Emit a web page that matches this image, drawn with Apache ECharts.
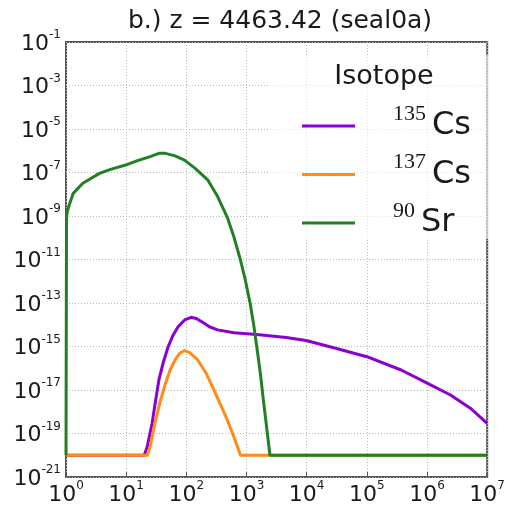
<!DOCTYPE html>
<html>
<head>
<meta charset="utf-8">
<script src="https://cdn.jsdelivr.net/npm/echarts@6/dist/echarts.min.js"></script>
<style>html,body{margin:0;padding:0;background:#fff}#c{width:508px;height:509px}</style>
</head>
<body>
<div id="c"></div>
<script>
// ---- data ----
const titleText = 'b.) z = 4463.42 (seal0a)';
const legendTitle = 'Isotope';
const seriesNames = ['135Cs', '137Cs', '90Sr'];
const massNumbers = ['135', '137', '90'];
const elements = ['Cs', 'Cs', 'Sr'];
// axis ranges as decade exponents (log10)
const xDecades = [0, 7];
const yDecades = [-21, -1];

const cs135X = [1, 20, 22.4, 27, 30.4, 35, 41.7, 50, 60.5, 73, 93.8, 120, 146, 178, 242, 331, 617, 1479, 4571, 9772, 30200, 100000, 371500, 1023000, 2455000, 5250000, 10000000];
const cs135Y = [1e-20, 1e-20, 2.5e-20, 2.95e-19, 2.5e-18, 2.9e-17, 2.0e-16, 1.0e-15, 3.4e-15, 8.1e-15, 1.66e-14, 2.2e-14, 1.95e-14, 1.4e-14, 8.1e-15, 5.8e-15, 4.3e-15, 3.55e-15, 2.6e-15, 1.9e-15, 8.3e-16, 3.4e-16, 8.3e-17, 2.0e-17, 5.9e-18, 1.45e-18, 2.95e-19];

const cs137X = [1, 22.4, 25.1, 30, 36.7, 45, 53.7, 65, 78, 93, 114, 155, 213, 288, 373, 479, 617, 794, 10000000];
const cs137Y = [1e-20, 1e-20, 2.5e-20, 2.95e-19, 2.9e-18, 2.0e-17, 8.3e-17, 2.4e-16, 4.9e-16, 6.5e-16, 5.2e-16, 2.4e-16, 5.9e-17, 1.0e-17, 2.0e-18, 4.2e-19, 7e-20, 1e-20, 1e-20];

const sr90X = [1, 1.02, 1.05, 1.13, 1.32, 1.9, 2.5, 3.6, 5.5, 9.8, 15, 25, 35, 45, 65, 93, 140, 226, 331, 479, 617, 794, 955, 1148, 1318, 1479, 1698, 1905, 2188, 2455, 10000000];
const sr90Y = [1e-20, 8.7e-10, 1.6e-9, 3.2e-9, 1.1e-8, 3.2e-8, 5.0e-8, 9.1e-8, 1.4e-7, 2.2e-7, 3.4e-7, 5.4e-7, 7.6e-7, 7.6e-7, 5.8e-7, 3.7e-7, 1.55e-7, 4.6e-8, 7.8e-9, 8.7e-10, 1.1e-10, 9.5e-12, 1.15e-12, 9.8e-14, 9.8e-15, 1.0e-15, 5.9e-17, 3.5e-18, 1.45e-19, 1e-20, 1e-20];

const colors = ['#8B00D0', '#FF8C1A', '#228022'];

// log-log plot: axes are linear in log10 of the values
function logPairs(xs, ys) { return xs.map((x, i) => [Math.log10(x), Math.log10(ys[i])]); }

const chart = echarts.init(document.getElementById('c'), null, {renderer: 'canvas'});

const tickRich = {
  b: {fontSize: 22, fontFamily: 'DejaVu Sans', color: '#1a1a1a', lineHeight: 26, verticalAlign: 'bottom'},
  s: {fontSize: 12, fontFamily: 'DejaVu Sans', color: '#1a1a1a', lineHeight: 12, verticalAlign: 'top'}
};
function powLabel(e) {
  return '{b|10}{s|' + Math.round(e) + '}';
}

const legendRich = {
  sp: {width: 33, fontSize: 10},
  sup: {fontSize: 22, fontFamily: 'Liberation Serif', color: '#1a1a1a', lineHeight: 4, verticalAlign: 'top'},
  gap: {width: 6, fontSize: 10},
  el: {fontSize: 32, fontFamily: 'DejaVu Sans', color: '#1a1a1a', lineHeight: 46, verticalAlign: 'middle'}
};

const gridLine = {type: [1, 2], color: '#b8b8b8', width: 1};

function lineSeries(i, xs, ys) {
  return {
    name: seriesNames[i], type: 'line', data: logPairs(xs, ys),
    showSymbol: false, smooth: false,
    color: colors[i], lineStyle: {width: 3, color: colors[i], join: 'round'}, z: 3 + i
  };
}

const option = {
  animation: false,
  backgroundColor: '#fff',
  grid: {left: 66, right: 14, top: 42, bottom: 32, show: true, borderColor: '#555', borderWidth: 2, backgroundColor: 'transparent'},
  legend: {
    orient: 'vertical',
    left: 270,
    top: 55,
    padding: [48, 18, 0, 32],
    itemWidth: 53,
    itemHeight: 3,
    itemGap: 9.5,
    icon: 'rect',
    selectedMode: false,
    backgroundColor: 'rgba(255,255,255,0.6)',
    data: seriesNames,
    formatter: function (name) {
      const i = seriesNames.indexOf(name);
      return '{sp|}{sup|' + massNumbers[i] + '}{gap|}{el|' + elements[i] + '}';
    },
    textStyle: {rich: legendRich}
  },
  graphic: [{
    type: 'text',
    x: 280,
    y: 9,
    z: 100,
    style: {text: titleText, align: 'center', verticalAlign: 'top', fontFamily: 'DejaVu Sans', fontSize: 25, fill: '#1a1a1a'}
  }, {
    type: 'text',
    x: 384,
    y: 63,
    z: 100,
    style: {text: legendTitle, align: 'center', verticalAlign: 'top', fontFamily: 'DejaVu Sans', fontSize: 27, fill: '#1a1a1a'}
  }],
  xAxis: {
    type: 'value',
    min: xDecades[0],
    max: xDecades[1],
    interval: 1,
    axisLine: {show: false},
    axisTick: {show: true, inside: true, length: 5, lineStyle: {color: '#555'}},
    splitLine: {show: true, lineStyle: gridLine},
    axisLabel: {formatter: powLabel, rich: tickRich, margin: 3, showMaxLabel: true, showMinLabel: true}
  },
  yAxis: {
    type: 'value',
    min: yDecades[0],
    max: yDecades[1],
    interval: 1,
    axisLine: {show: false},
    axisTick: {show: false},
    splitLine: {show: true, lineStyle: Object.assign({}, gridLine, {color: ['#b8b8b8', 'rgba(0,0,0,0)']})},
    axisLabel: {
      formatter: function (e) {
        const n = Math.round(e);
        if (n % 2 === 0) return '';
        return powLabel(n);
      },
      rich: tickRich, margin: 5, showMaxLabel: true, showMinLabel: true
    }
  },
  series: [
    lineSeries(0, cs135X, cs135Y),
    lineSeries(1, cs137X, cs137Y),
    lineSeries(2, sr90X, sr90Y)
  ]
};
chart.setOption(option);
</script>
</body>
</html>
